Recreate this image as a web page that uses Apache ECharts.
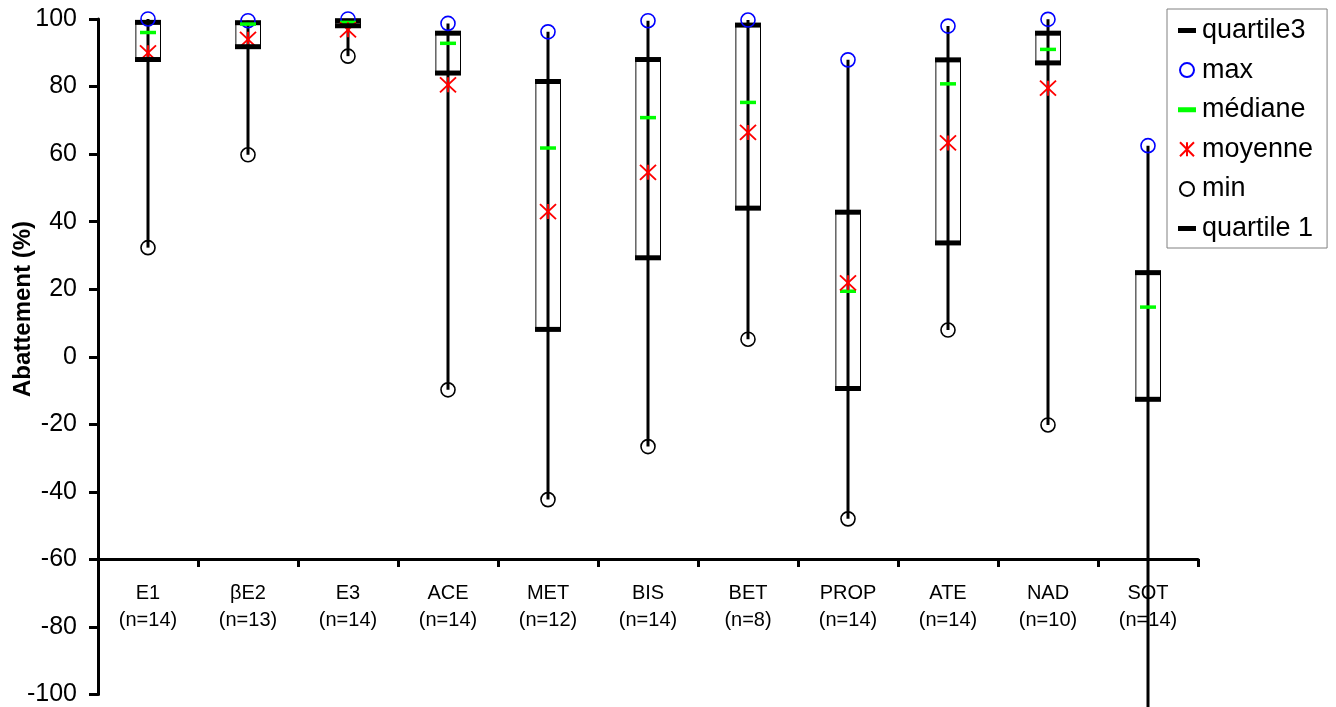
<!DOCTYPE html>
<html>
<head>
<meta charset="utf-8">
<script src="https://cdn.jsdelivr.net/npm/echarts@6/dist/echarts.min.js"></script>
<style>
html,body{margin:0;padding:0;background:#fff;}
#chart{width:1336px;height:707px;}
</style>
</head>
<body>
<div id="chart"></div>
<script>
const categories = ['E1','βE2','E3','ACE','MET','BIS','BET','PROP','ATE','NAD','SOT'];
const counts = [14,13,14,14,12,14,8,14,14,10,14];
const q3 = [99, 98.9, 99.5, 95.8, 81.5, 88, 98.2, 42.8, 87.9, 95.8, 24.9];
const maxV = [100, 99.5, 100, 98.7, 96.2, 99.5, 99.7, 87.9, 97.9, 99.9, 62.5];
const median = [96, 98.5, 99, 92.8, 61.8, 70.8, 75.3, 19.4, 80.8, 91, 14.7];
const mean = [90, 94, 96.8, 80.5, 43, 54.6, 66.4, 21.9, 63.3, 79.5, null];
const minV = [32.3, 59.8, 89, -9.8, -42.3, -26.6, 5.2, -48, 7.9, -20.2, -130];
const q1 = [88, 91.8, 98, 84, 8.1, 29.3, 44, -9.4, 33.7, 87, -12.6];
const yTicks = [-100,-80,-60,-40,-20,0,20,40,60,80,100];

const FONT = '"Liberation Sans", Arial, sans-serif';
const gridTop = 19, gridBottom = 11, chartH = 707;
const gridH = chartH - gridTop - gridBottom;
const xAxisAt = -60;
const xOffset = -gridH * (xAxisAt - yTicks[0]) / (yTicks[yTicks.length-1] - yTicks[0]);

const dashIcon = 'path://M0,0L0.01,0M0,4.5L18,4.5L18,9.5L0,9.5ZM18,14L18.01,14';
const starPath = 'path://M0,0L16,15M16,0L0,15M8,0L8,15';
const starIcon = 'path://M0,0L0.01,0M2,0L16,14M16,0L2,14M9,0L9,14M18,14L18.01,14';

const chart = echarts.init(document.getElementById('chart'), null, {renderer:'canvas'});
const option = {
  backgroundColor: '#fff',
  animation: false,
  grid: {left: 98, right: 138, top: gridTop, bottom: gridBottom, containLabel: false},
  legend: {
    orient: 'vertical',
    left: 1167, top: 9,
    padding: [8, 14, 6, 10],
    itemWidth: 18, itemHeight: 14,
    itemGap: 12.6,
    borderColor: '#808080', borderWidth: 1,
    textStyle: {fontFamily: FONT, fontSize: 27, lineHeight: 26, color: '#000', padding: [0,0,0,1]},
    data: [
      {name: 'quartile3', icon: dashIcon},
      {name: 'max', icon: 'circle'},
      {name: 'médiane', icon: dashIcon},
      {name: 'moyenne', icon: starIcon},
      {name: 'min', icon: 'circle'},
      {name: 'quartile 1', icon: dashIcon}
    ]
  },
  xAxis: {
    type: 'category',
    data: categories,
    offset: xOffset,
    boundaryGap: true,
    axisLine: {show: true, onZero: false, lineStyle: {color: '#000', width: 3}},
    axisTick: {show: true, length: 8, lineStyle: {color: '#000', width: 3}},
    axisLabel: {
      interval: 0, margin: 21, color: '#000', fontFamily: FONT, fontSize: 20, lineHeight: 27,
      formatter: function (v, i) { return v + '\n(n=' + counts[i] + ')'; }
    },
    splitLine: {show: false}
  },
  yAxis: {
    type: 'value',
    min: -100, max: 100, interval: 20,
    axisLine: {show: true, lineStyle: {color: '#000', width: 3}},
    axisTick: {show: true, length: 9, lineStyle: {color: '#000', width: 3}},
    axisLabel: {margin: 21, color: '#000', fontFamily: FONT, fontSize: 25},
    splitLine: {show: false}
  },
  graphic: [{
    type: 'text',
    x: 23, y: 309,
    rotation: Math.PI / 2,
    style: {text: 'Abattement (%)', fontFamily: FONT, fontSize: 24, fontWeight: 'bold', fill: '#000', align: 'center', verticalAlign: 'middle'}
  }],
  series: [
    {
      name: 'box',
      type: 'custom',
      clip: false,
      silent: true,
      data: categories.map((c, i) => [i, q3[i], q1[i], maxV[i], minV[i]]),
      encode: {x: 0, y: [1, 2, 3, 4]},
      renderItem: function (params, api) {
        const i = api.value(0);
        const t = api.coord([i, api.value(1)]);
        const b = api.coord([i, api.value(2)]);
        const hi = api.coord([i, api.value(3)]);
        const lo = api.coord([i, api.value(4)]);
        const w = 25;
        return {
          type: 'group',
          children: [
            {type: 'rect', shape: {x: t[0] - w/2, y: t[1], width: w, height: b[1] - t[1]}, style: {fill: '#fff', stroke: '#000', lineWidth: 1}},
            {type: 'line', shape: {x1: t[0] - w/2 + 0.5, y1: t[1], x2: t[0] - w/2 + 0.5, y2: b[1]}, style: {stroke: '#8c8c8c', lineWidth: 1.5}},
            {type: 'line', shape: {x1: hi[0], y1: hi[1], x2: lo[0], y2: lo[1]}, style: {stroke: '#000', lineWidth: 3}}
          ]
        };
      }
    },
    {name: 'quartile3', type: 'scatter', data: q3, symbol: 'rect', symbolSize: [26, 5], itemStyle: {color: '#000', opacity: 1}},
    {name: 'max', type: 'scatter', data: maxV, symbol: 'circle', symbolSize: 14, itemStyle: {color: 'rgba(255,255,255,0)', borderColor: '#0000ff', borderWidth: 1.6, opacity: 1}},
    {name: 'médiane', type: 'scatter', data: median, symbol: 'rect', symbolSize: [16, 3.5], itemStyle: {color: '#00ff00', opacity: 1}},
    {name: 'moyenne', type: 'scatter', data: mean, symbol: starPath, symbolSize: [16, 15], itemStyle: {color: '#ff0000', borderColor: '#ff0000', borderWidth: 1.8, opacity: 1}},
    {name: 'min', type: 'scatter', data: minV, symbol: 'circle', symbolSize: 14, itemStyle: {color: 'rgba(255,255,255,0)', borderColor: '#000', borderWidth: 1.6, opacity: 1}},
    {name: 'quartile 1', type: 'scatter', data: q1, symbol: 'rect', symbolSize: [26, 5], itemStyle: {color: '#000', opacity: 1}}
  ]
};
chart.setOption(option);
</script>
</body>
</html>
